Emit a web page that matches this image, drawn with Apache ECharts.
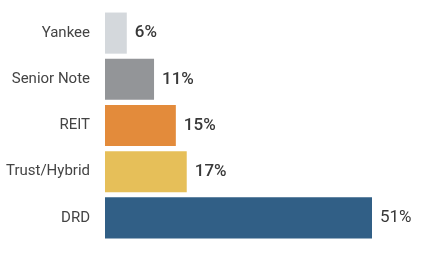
<!DOCTYPE html>
<html>
<head>
<meta charset="utf-8">
<script src="https://cdn.jsdelivr.net/npm/echarts@6/dist/echarts.min.js"></script>
<style>
html,body{margin:0;padding:0;background:#fff;}
#chart{width:440px;height:258px;}
</style>
</head>
<body>
<div id="chart"></div>
<script>
var categories = ["Yankee", "Senior Note", "REIT", "Trust/Hybrid", "DRD"];
var values = [6, 11, 15, 17, 51];
var colors = ["#d4d8dc", "#939598", "#e38b3b", "#e6bf59", "#315f86"];
var labelWeights = ["500", "500", "500", "500", "normal"];

var chart = echarts.init(document.getElementById('chart'), null, {renderer: 'canvas'});
chart.setOption({
  animation: false,
  backgroundColor: '#ffffff',
  grid: {left: 105, right: 68, top: 10, bottom: 17, containLabel: false},
  xAxis: {
    type: 'value', min: 2, max: 51,
    show: false
  },
  yAxis: {
    type: 'category',
    data: categories,
    inverse: true,
    axisLine: {show: false},
    axisTick: {show: false},
    axisLabel: {
      margin: 15,
      color: '#444444',
      fontSize: 15,
      fontFamily: 'Roboto'
    }
  },
  series: [{
    type: 'bar',
    barCategoryGap: '11%',
    data: values.map(function (v, i) {
      return {
        value: v,
        itemStyle: {color: colors[i]},
        label: {fontWeight: labelWeights[i]}
      };
    }),
    label: {
      show: true,
      position: 'right',
      distance: 8,
      color: '#383838',
      fontSize: 17,
      fontFamily: 'Roboto',
      formatter: function (p) { return p.value + '%'; }
    }
  }]
});
</script>
</body>
</html>
